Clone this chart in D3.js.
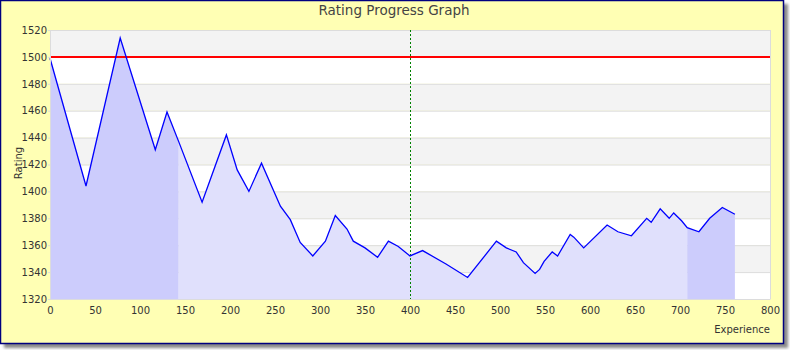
<!DOCTYPE html>
<html>
<head>
<meta charset="utf-8">
<script src="https://cdn.jsdelivr.net/npm/d3@7"></script>
<style>
  html, body { margin: 0; padding: 0; background: #ffffff; }
  svg { display: block; font-family: "DejaVu Sans", sans-serif; }
</style>
</head>
<body>
<svg id="chart" width="790" height="350"></svg>
<script>
// ---- data ----
const experience = [0, 40, 78, 117, 130, 143, 169, 196, 208, 221, 235, 256, 267, 278, 292, 306, 317, 330, 337, 350, 364, 376, 387, 400, 414, 440, 464, 496, 507, 518, 526, 539, 544, 549, 558, 564, 578, 582, 593, 619, 631, 646, 663, 668, 678, 688, 693, 702, 708, 721, 733, 747, 761];
const rating     = [1499, 1404, 1514, 1431, 1459, 1437, 1392, 1442, 1416, 1400, 1421, 1389, 1379, 1362, 1352, 1363, 1382, 1372, 1363, 1358, 1351, 1363, 1359, 1352, 1356, 1346, 1336, 1363, 1358, 1355, 1347, 1339, 1342, 1348, 1355, 1352, 1368, 1366, 1358, 1375, 1370, 1367, 1380, 1377, 1387, 1380, 1384, 1378, 1373, 1370, 1380, 1388, 1383];
const segmentStarts = [0, 143, 708];
const segmentEnds   = [143, 708, 761];
const segmentShade  = ["dark", "light", "dark"];
const xTicks = [0, 50, 100, 150, 200, 250, 300, 350, 400, 450, 500, 550, 600, 650, 700, 750, 800];
const yTicks = [1320, 1340, 1360, 1380, 1400, 1420, 1440, 1460, 1480, 1500, 1520];
const targetRating = 1500;
const markerExperience = 400;
const titleText = "Rating Progress Graph";
const xLabel = "Experience";
const yLabel = "Rating";

// ---- layout ----
const svg = d3.select("#chart");
const plot = { left: 50, right: 770, top: 30, bottom: 299 };
const x = d3.scaleLinear().domain([0, 800]).range([plot.left, plot.right]);
const y = d3.scaleLinear().domain([1320, 1520]).range([plot.bottom, plot.top]);

const defs = svg.append("defs");
const f = defs.append("filter").attr("id", "shadow").attr("x", "-5%").attr("y", "-5%").attr("width", "115%").attr("height", "115%");
f.append("feGaussianBlur").attr("stdDeviation", 1.5);

// shadow + frame
svg.append("rect").attr("x", 4).attr("y", 4).attr("width", 784).attr("height", 344)
  .attr("fill", "#8a8a8a").attr("filter", "url(#shadow)");
svg.append("rect").attr("x", 0.5).attr("y", 0.5).attr("width", 783).attr("height", 343)
  .attr("fill", "#ffffb4").attr("stroke", "#000080").attr("stroke-width", 1.5);

// bands
const bandData = yTicks.slice(0, -1).map((v, i) => ({ lo: v, hi: yTicks[i + 1], i }));
svg.append("g").selectAll("rect").data(bandData).join("rect")
  .attr("x", plot.left).attr("width", plot.right - plot.left)
  .attr("y", d => y(d.hi)).attr("height", d => y(d.lo) - y(d.hi))
  .attr("fill", d => d.i % 2 === 1 ? "#f3f3f3" : "#ffffff");

// grid lines
svg.append("g").selectAll("line").data(yTicks).join("line")
  .attr("x1", plot.left).attr("x2", plot.right)
  .attr("y1", d => y(d) + 0.5).attr("y2", d => y(d) + 0.5)
  .attr("stroke", "#dcdcdc").attr("stroke-width", 1);
svg.append("line").attr("x1", plot.right + 0.5).attr("x2", plot.right + 0.5)
  .attr("y1", plot.top).attr("y2", plot.bottom).attr("stroke", "#dcdcdc");

// areas
const pts = experience.map((e, i) => ({ e, r: rating[i] }));
const area = d3.area().x(d => x(d.e)).y0(y(1320)).y1(d => y(d.r));
segmentStarts.forEach((s, k) => {
  const seg = pts.filter(p => p.e >= s && p.e <= segmentEnds[k]);
  svg.append("path").datum(seg).attr("d", area)
    .attr("fill", segmentShade[k] === "dark" ? "#ccccfc" : "#e0e0fc");
});

// target line
svg.append("line").attr("x1", plot.left).attr("x2", plot.right)
  .attr("y1", y(targetRating)).attr("y2", y(targetRating))
  .attr("stroke", "#ff0000").attr("stroke-width", 2);

// marker
svg.append("line").attr("x1", x(markerExperience) + 0.5).attr("x2", x(markerExperience) + 0.5)
  .attr("y1", plot.top).attr("y2", plot.bottom)
  .attr("stroke", "#008000").attr("stroke-width", 1).attr("stroke-dasharray", "2,2");

// line
svg.append("path").datum(pts)
  .attr("d", d3.line().x(d => x(d.e)).y(d => y(d.r)))
  .attr("fill", "none").attr("stroke", "#0000ff").attr("stroke-width", 1.3);

// axes
const yAxis = svg.append("g").attr("transform", `translate(${plot.left},0)`)
  .call(d3.axisLeft(y).tickValues(yTicks).tickSize(2).tickPadding(1).tickFormat(d3.format("d")));
const xAxis = svg.append("g").attr("transform", `translate(0,${plot.bottom})`)
  .call(d3.axisBottom(x).tickValues(xTicks).tickSize(0).tickPadding(8).tickFormat(d3.format("d")));
[yAxis, xAxis].forEach(g => {
  g.select(".domain").attr("stroke", "#dcdcdc");
  g.selectAll(".tick line").attr("stroke", "#dcdcdc");
  g.selectAll("text").attr("fill", "#333333").style("font-size", "10px")
    .style("font-family", "DejaVu Sans, sans-serif");
});

// titles
svg.append("text").attr("x", 394).attr("y", 15).attr("text-anchor", "middle")
  .attr("fill", "#444444").style("font-size", "13.5px").text(titleText);
svg.append("text").attr("x", 770).attr("y", 333).attr("text-anchor", "end")
  .attr("fill", "#333333").style("font-size", "10px").text(xLabel);
svg.append("text").attr("transform", "translate(22,163) rotate(-90)").attr("text-anchor", "middle")
  .attr("fill", "#333333").style("font-size", "10px").text(yLabel);
</script>
</body>
</html>
